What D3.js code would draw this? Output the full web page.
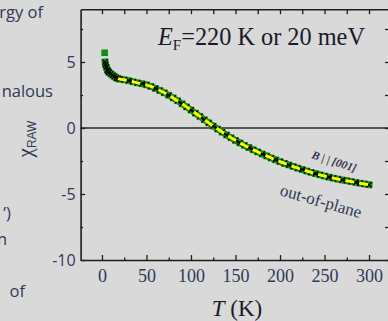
<!DOCTYPE html>
<html><head><meta charset="utf-8">
<script src="https://cdn.jsdelivr.net/npm/d3@7/dist/d3.min.js"></script>
<style>
html,body{margin:0;padding:0;background:#d9d9d9;}
svg{display:block;}
</style></head>
<body>
<svg id="c" width="388" height="321"></svg>
<script>
// ---- data ----
const temps = [3.5, 4, 5, 6, 7, 8, 10, 12, 14, 16, 18, 20, 25, 30, 35, 40, 45, 50, 55, 60, 65, 70, 75, 80, 85, 90, 95, 100, 105, 110, 115, 120, 125, 130, 135, 140, 145, 150, 155, 160, 165, 170, 175, 180, 185, 190, 195, 200, 205, 210, 215, 220, 225, 230, 235, 240, 245, 250, 255, 260, 265, 270, 275, 280, 285, 290, 295, 300];
const chiRaw = [5.0, 4.8, 4.6, 4.4, 4.3, 4.2, 4.1, 4.0, 3.9, 3.8, 3.75, 3.7, 3.65, 3.58, 3.5, 3.42, 3.35, 3.27, 3.15, 3.0, 2.84, 2.67, 2.48, 2.28, 2.06, 1.83, 1.6, 1.36, 1.12, 0.88, 0.63, 0.39, 0.15, -0.08, -0.31, -0.53, -0.74, -0.94, -1.13, -1.31, -1.48, -1.65, -1.81, -1.97, -2.12, -2.27, -2.41, -2.55, -2.68, -2.8, -2.92, -3.04, -3.15, -3.26, -3.36, -3.46, -3.55, -3.64, -3.72, -3.8, -3.87, -3.94, -4.0, -4.06, -4.12, -4.18, -4.24, -4.3];
const firstT = [3];
const firstChi = [5.7];
const fitStartT = 18;
const xTicks = [0, 50, 100, 150, 200, 250, 300];
const xMinor = [25, 75, 125, 175, 225, 275];
const yTicks = [-10, -5, 0, 5];
const yMinor = [-7.5, -2.5, 2.5, 7.5];
const sideText = [
  {t: "ergy of", x: 43, y: 18},
  {t: "nalous", x: 53, y: 97},
  {t: "’)", x: 11, y: 219},
  {t: "n", x: 7, y: 245},
  {t: "of", x: 25, y: 297}
];

const svg = d3.select("#c");
const x = d3.scaleLinear().domain([-24, 323]).range([80.6, 389.5]);
const y = d3.scaleLinear().domain([-10, 9]).range([260, 9.2]);
const txtCol = "#2f3957";
const axCol = "#1e1e1e";

// side text fragments
svg.append("g").selectAll("text").data(sideText).join("text")
  .attr("x", d => d.x).attr("y", d => d.y)
  .attr("text-anchor", "end")
  .attr("font-family", "'Open Sans', 'Liberation Sans', sans-serif")
  .attr("font-size", 16.5).attr("fill", txtCol).text(d => d.t);

// zero line
svg.append("line").attr("x1", x(-24)).attr("x2", x(323))
  .attr("y1", y(0)).attr("y2", y(0)).attr("stroke", "#2a2a2a").attr("stroke-width", 1.4);

function styleAxis(g) {
  g.select(".domain").attr("stroke", axCol).attr("stroke-width", 1.6);
  g.selectAll(".tick line").attr("stroke", axCol).attr("stroke-width", 1.3);
}
// bottom axis
const gb = svg.append("g").attr("transform", `translate(0,${y(-10)})`)
  .call(d3.axisBottom(x).tickValues(xTicks).tickSizeInner(-5).tickSizeOuter(0).tickPadding(0));
styleAxis(gb);
gb.selectAll(".tick text").attr("y", 22).attr("dy", 0)
  .attr("font-family", "'Liberation Serif', 'Times New Roman', serif")
  .attr("font-size", 18).attr("fill", txtCol);
const gbm = svg.append("g").attr("transform", `translate(0,${y(-10)})`)
  .call(d3.axisBottom(x).tickValues(xMinor).tickSizeInner(-2.5).tickSizeOuter(0).tickFormat(""));
styleAxis(gbm); gbm.select(".domain").remove();
// top axis
const gt = svg.append("g").attr("transform", `translate(0,${y(9)})`)
  .call(d3.axisTop(x).tickValues(xTicks.concat(xMinor)).tickSizeInner(-5).tickSizeOuter(0).tickFormat(""));
styleAxis(gt);
// left axis
const gl = svg.append("g").attr("transform", `translate(${x(-24)},0)`)
  .call(d3.axisLeft(y).tickValues(yTicks).tickSizeInner(-4.5).tickSizeOuter(0).tickPadding(0).tickFormat(d3.format("d")));
styleAxis(gl);
gl.selectAll(".tick text").attr("x", -5).attr("dy", "0.36em")
  .attr("font-family", "'Open Sans', 'Liberation Sans', sans-serif")
  .attr("font-size", 16).attr("fill", txtCol).text(d => d < 0 ? "-" + Math.abs(d) : d);
const glm = svg.append("g").attr("transform", `translate(${x(-24)},0)`)
  .call(d3.axisLeft(y).tickValues(yMinor).tickSizeInner(-2.5).tickSizeOuter(0).tickFormat(""));
styleAxis(glm); glm.select(".domain").remove();
// right axis (at edge)
const gr = svg.append("g").attr("transform", `translate(${x(323)},0)`)
  .call(d3.axisRight(y).tickValues(yTicks.concat(yMinor)).tickSizeInner(-4.5).tickSizeOuter(0).tickFormat(""));
styleAxis(gr);

// data: green squares + black stars
const pts = temps.map((t, i) => ({t, v: chiRaw[i]}));
const first = firstT.map((t, i) => ({t, v: firstChi[i]}));
const lineGen = d3.line().x(d => x(d.t)).y(d => y(d.v)).curve(d3.curveCatmullRom);
// green band under markers
svg.append("path").datum(pts).attr("d", lineGen)
  .attr("fill", "none").attr("stroke", "#128c12").attr("stroke-width", 6.5).attr("stroke-linecap", "square");
const sq = d3.symbol().type(d3.symbolSquare).size(44);
svg.append("g").selectAll("path").data(first.concat(pts)).join("path")
  .attr("transform", d => `translate(${x(d.t)},${y(d.v)})`)
  .attr("d", sq).attr("fill", "#128c12");
const star = d3.symbol().type(d3.symbolTimes).size(20);
svg.append("g").selectAll("path").data(pts).join("path")
  .attr("transform", d => `translate(${x(d.t)},${y(d.v)})`)
  .attr("d", star).attr("fill", "none").attr("stroke", "#000").attr("stroke-width", 1.1);
// thin black core
svg.append("path").datum(pts).attr("d", lineGen)
  .attr("fill", "none").attr("stroke", "#000").attr("stroke-width", 2);
// yellow dashed fit
const fit = pts.filter(d => d.t >= fitStartT);
svg.append("path").datum(fit).attr("d", lineGen)
  .attr("fill", "none").attr("stroke", "#ffff00").attr("stroke-width", 3)
  .attr("stroke-dasharray", "9,5");

// title
const title = svg.append("text").attr("x", 158).attr("y", 45)
  .attr("font-family", "'Liberation Serif', 'Times New Roman', serif")
  .attr("font-size", 24.3).attr("fill", "#1a1a2a");
title.append("tspan").attr("font-style", "italic").text("E");
title.append("tspan").attr("font-size", 15).attr("dy", 5).text("F");
title.append("tspan").attr("dy", -5).text("=220 K or 20 meV");

// annotations
svg.append("text").attr("transform", "translate(311,158) rotate(18)")
  .attr("font-family", "'Liberation Serif', serif").attr("font-style", "italic").attr("font-weight", "bold")
  .attr("font-size", 11.5).attr("fill", "#3a3650").text("B | | [001]");
svg.append("text").attr("transform", "translate(279,195) rotate(16)")
  .attr("font-family", "'Liberation Serif', serif")
  .attr("font-size", 17).attr("fill", txtCol).text("out-of-plane");

// axis titles
const xt = svg.append("text").attr("x", 237).attr("y", 316).attr("text-anchor", "middle")
  .attr("font-family", "'Liberation Serif', serif").attr("font-size", 23).attr("fill", "#1a1a2a");
xt.append("tspan").attr("font-style", "italic").text("T");
xt.append("tspan").text(" (K)");
const yt = svg.append("text").attr("transform", "translate(32,139) rotate(-90)").attr("text-anchor", "middle")
  .attr("font-family", "'Liberation Serif', serif").attr("font-size", 21).attr("fill", txtCol);
yt.append("tspan").text("χ");
yt.append("tspan").attr("font-size", 12).attr("dy", 4).attr("font-family", "'Liberation Sans', sans-serif").text("RAW");
</script>
</body></html>
